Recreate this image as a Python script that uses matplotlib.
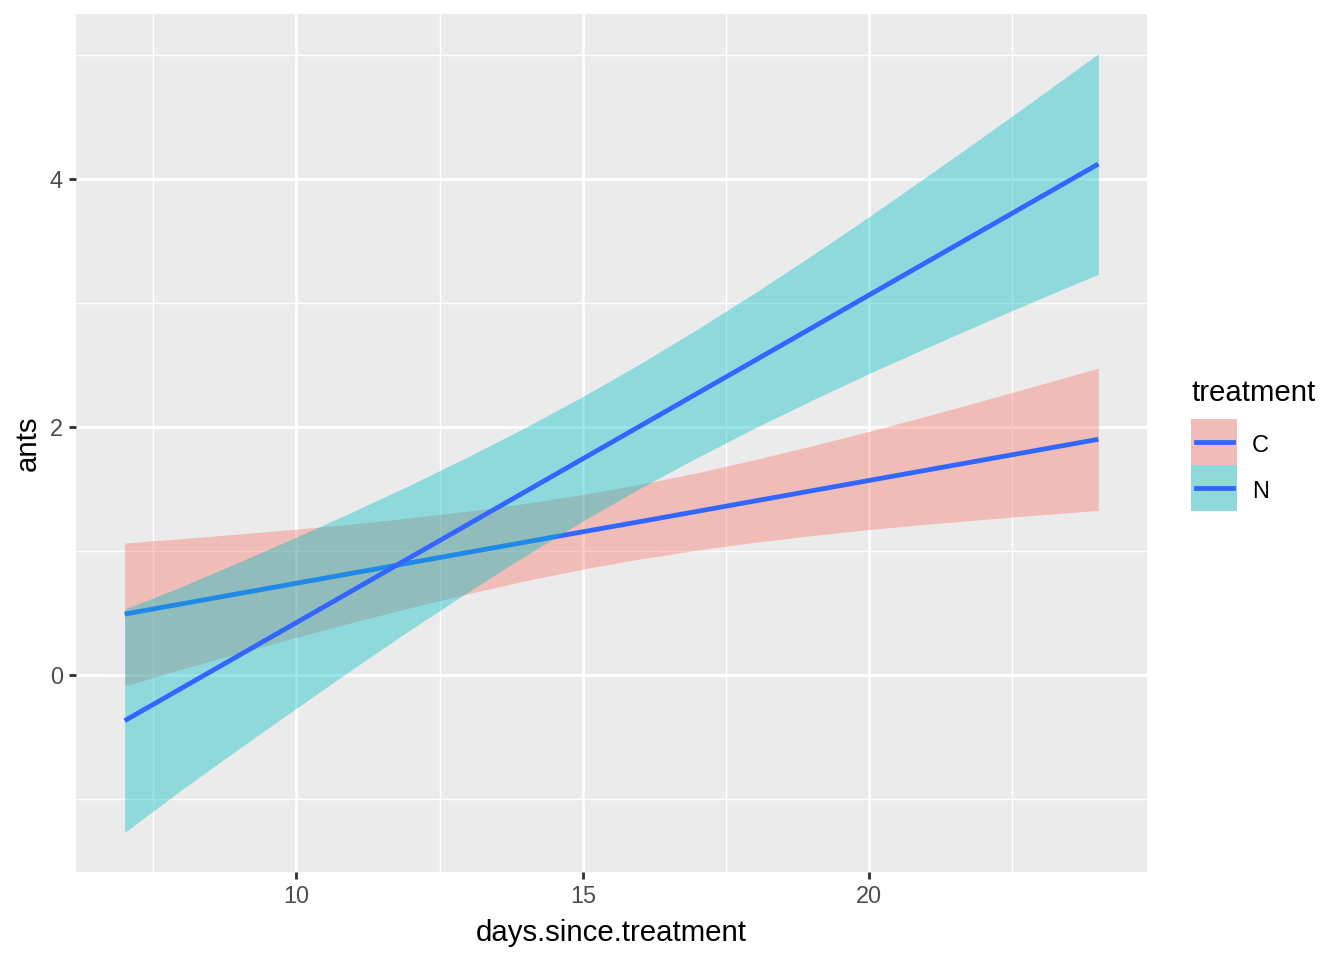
import matplotlib
matplotlib.use("Agg")
import matplotlib.pyplot as plt
from matplotlib.patches import Rectangle
from matplotlib.lines import Line2D

plt.rcParams['font.family'] = ['Liberation Sans', 'DejaVu Sans']

# data
days = [7, 8, 9, 10, 11, 12, 13, 14, 15, 16, 17, 18, 19, 20, 21, 22, 23, 24]
c_fit = [0.490, 0.573, 0.656, 0.739, 0.822, 0.905, 0.988, 1.071, 1.154,
         1.236, 1.319, 1.402, 1.485, 1.568, 1.651, 1.734, 1.817, 1.900]
c_lower = [-0.09, 0.047, 0.176, 0.303, 0.426, 0.543, 0.655, 0.759, 0.853,
           0.935, 1.007, 1.069, 1.123, 1.172, 1.215, 1.254, 1.291, 1.326]
c_upper = [1.064, 1.099, 1.136, 1.175, 1.218, 1.267, 1.321, 1.383, 1.455,
           1.537, 1.631, 1.735, 1.847, 1.964, 2.087, 2.214, 2.343, 2.474]
n_fit = [-0.370, -0.106, 0.158, 0.422, 0.686, 0.951, 1.215, 1.479, 1.743,
         2.007, 2.271, 2.535, 2.799, 3.064, 3.328, 3.592, 3.856, 4.120]
n_lower = [-1.27, -0.925, -0.594, -0.268, 0.053, 0.367, 0.670, 0.962, 1.241,
           1.505, 1.754, 1.990, 2.215, 2.431, 2.638, 2.840, 3.037, 3.231]
n_upper = [0.53, 0.713, 0.910, 1.112, 1.319, 1.535, 1.760, 1.996, 2.245,
           2.509, 2.788, 3.080, 3.383, 3.697, 4.018, 4.344, 4.675, 5.009]

treatments = ['C', 'N']
fill_colors = ['#F8766D', '#00BFC4']
line_color = '#3366FF'
x_ticks = [10, 15, 20]
y_ticks = [0, 2, 4]

W, H, DPI = 1344, 960, 192
fig = plt.figure(figsize=(W / DPI, H / DPI), dpi=DPI)
ax = fig.add_axes([76 / W, 1 - 872 / H, (1147 - 76) / W, (872 - 14) / H])
ax.set_facecolor('#EBEBEB')

series = [(c_fit, c_lower, c_upper), (n_fit, n_lower, n_upper)]
z = 2
for (fit, lo, up), col in zip(series, fill_colors):
    ax.fill_between(days, lo, up, color=col, alpha=0.4, linewidth=0, zorder=z)
    ax.plot(days, fit, color=line_color, lw=1.8, zorder=z + 1, solid_capstyle='butt')
    z += 2

ax.set_xlim(6.15, 24.85)
ax.set_ylim(-1.59, 5.33)

# grid
for v in [7.5, 12.5, 17.5, 22.5]:
    ax.axvline(v, color='white', lw=0.55, zorder=0.5)
for v in [-1, 1, 3, 5]:
    ax.axhline(v, color='white', lw=0.55, zorder=0.5)
for v in x_ticks:
    ax.axvline(v, color='white', lw=1.07, zorder=0.6)
for v in y_ticks:
    ax.axhline(v, color='white', lw=1.07, zorder=0.6)

ax.set_xticks(x_ticks)
ax.set_yticks(y_ticks)
ax.tick_params(axis='both', colors='#333333', length=2.75, width=1.07,
               labelsize=8.8, labelcolor='#4D4D4D', pad=2.2)
for s in ax.spines.values():
    s.set_visible(False)
ax.set_xlabel('days.since.treatment', fontsize=11, labelpad=4)
ax.set_ylabel('ants', fontsize=11, labelpad=3)

# legend drawn manually
fig.text(1191 / W, 1 - 393 / H, 'treatment', fontsize=11, ha='left', va='center')
key_tops = [419, 465]
for top, col, lab in zip(key_tops, fill_colors, treatments):
    fig.patches.append(Rectangle((1191 / W, 1 - (top + 46) / H), 46 / W, 46 / H,
                                 transform=fig.transFigure, facecolor='#EBEBEB',
                                 edgecolor='none'))
    fig.patches.append(Rectangle((1191 / W, 1 - (top + 46) / H), 46 / W, 46 / H,
                                 transform=fig.transFigure, facecolor=col, alpha=0.4,
                                 edgecolor='none'))
    fig.lines.append(Line2D([1196 / W, 1233 / W], [1 - (top + 23) / H] * 2,
                            transform=fig.transFigure, color=line_color, lw=1.8))
    fig.text(1252 / W, 1 - (top + 26) / H, lab, fontsize=8.8, ha='left', va='center')

fig.savefig('out.png', dpi=DPI, facecolor='white')
